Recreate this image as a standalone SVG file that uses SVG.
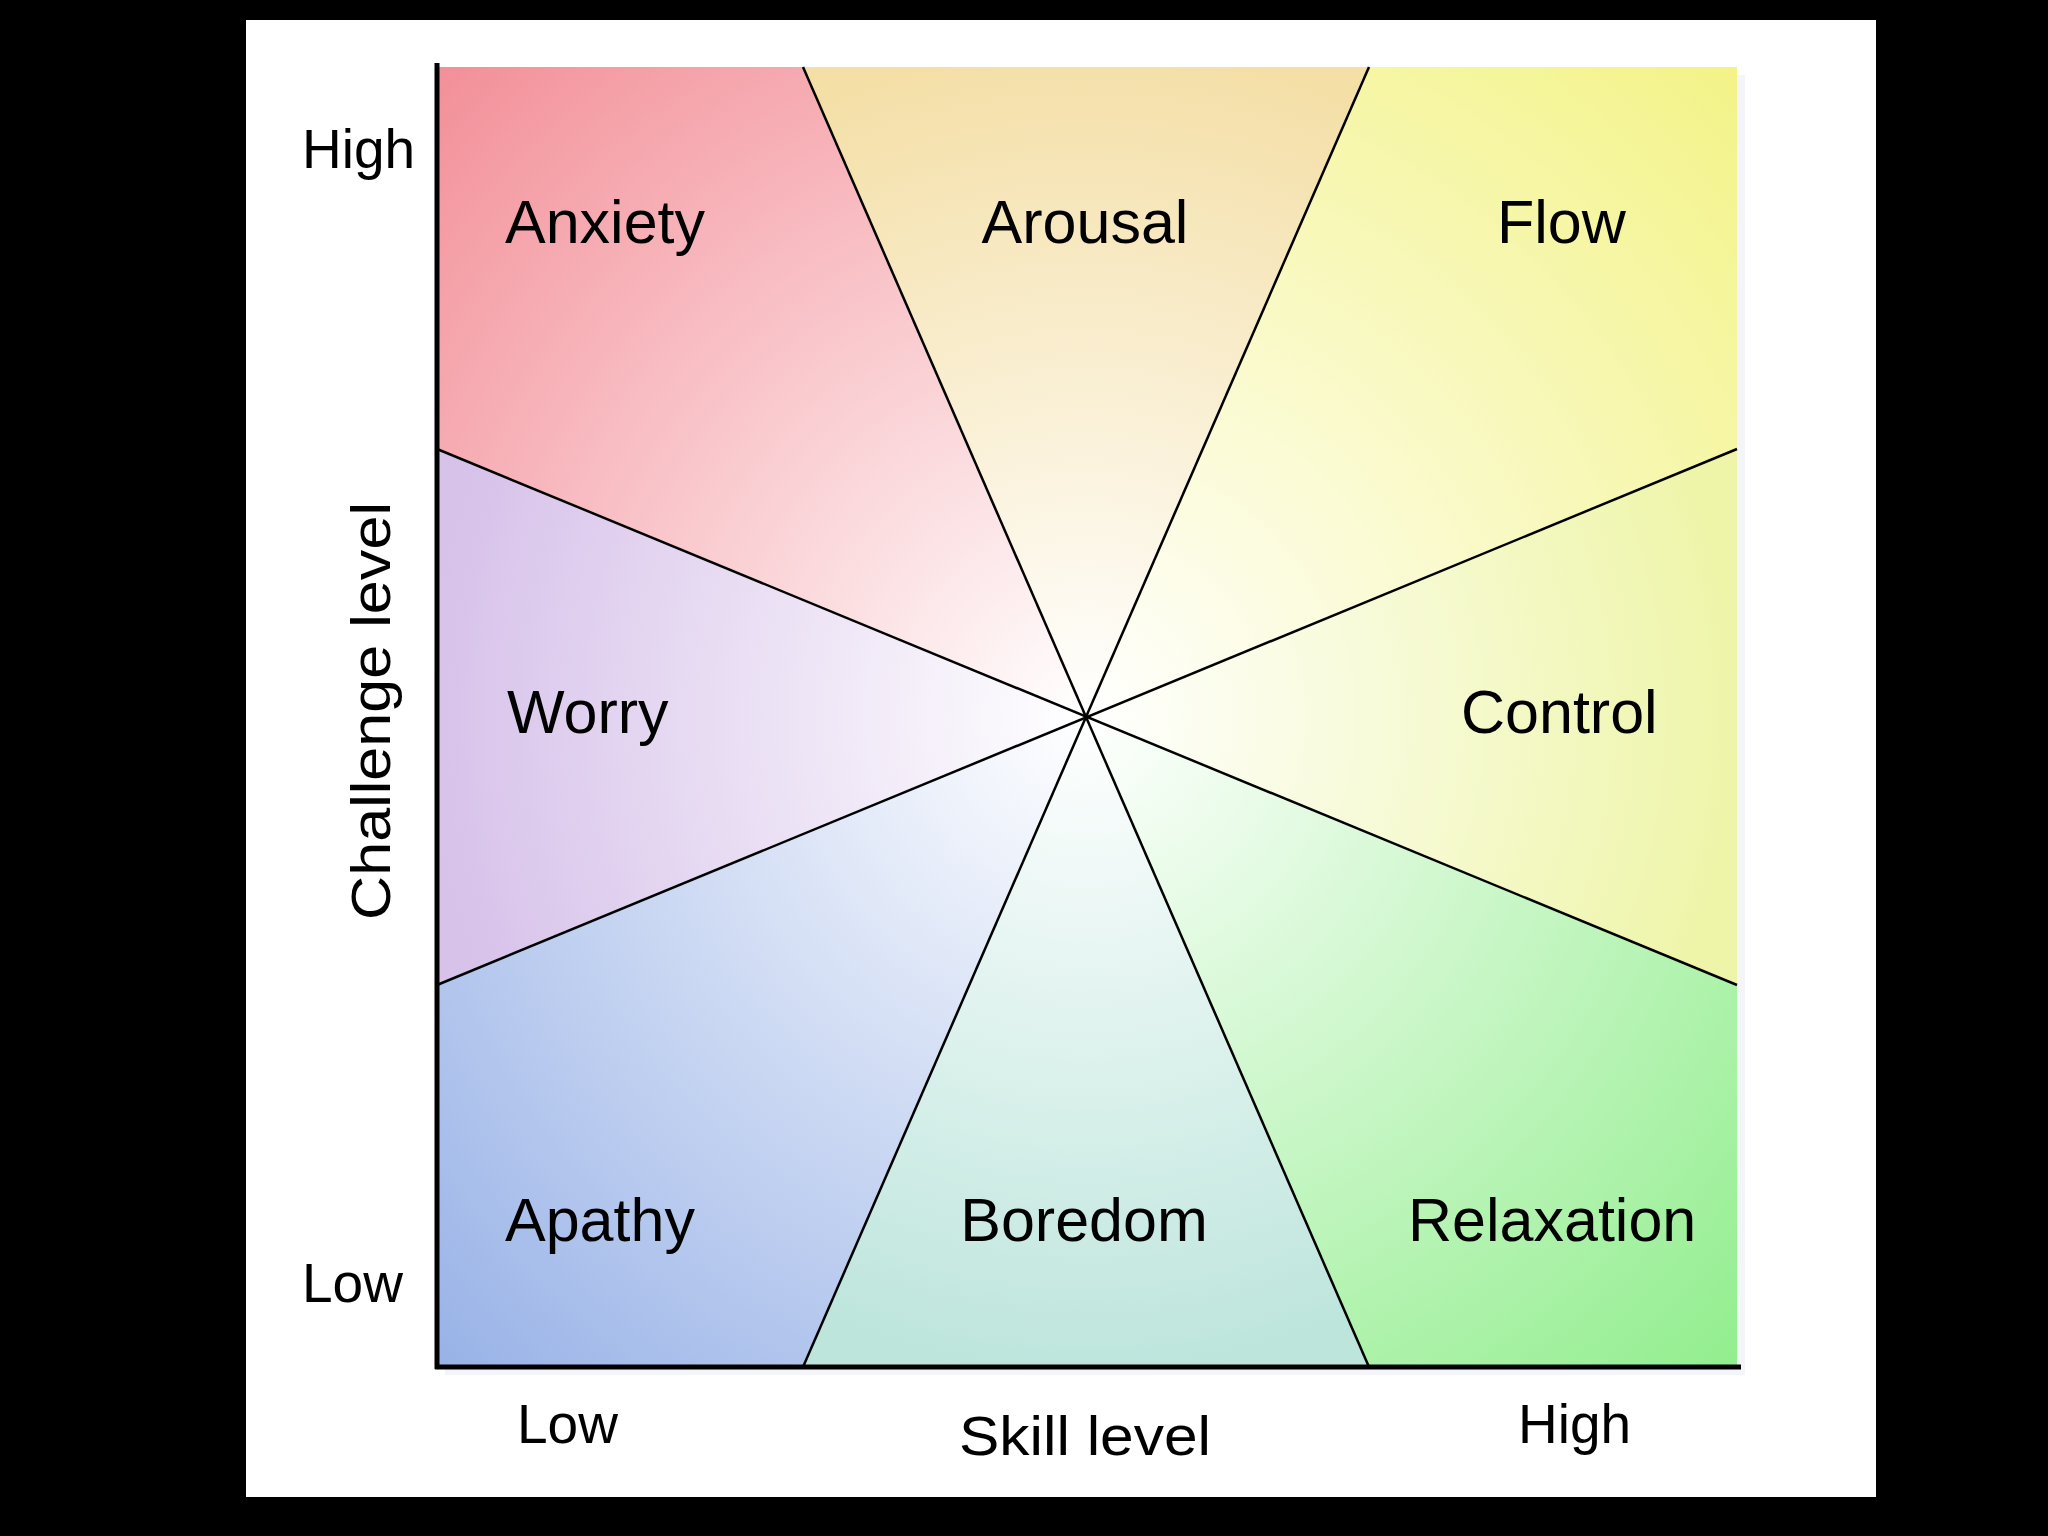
<svg xmlns="http://www.w3.org/2000/svg" width="2048" height="1536" viewBox="0 0 2048 1536">
  <style>
    .lbl { font-family: "Liberation Sans", Arial, sans-serif; font-size: 61px; fill: #000; }
    .ax { font-family: "Liberation Sans", Arial, sans-serif; font-size: 55px; fill: #000; }
    .div { stroke: #000; stroke-width: 2.5; fill: none; }
    .axis { stroke: #000; stroke-width: 5; fill: none; }
  </style>
  <defs>
    <radialGradient id="gAnx" gradientUnits="userSpaceOnUse" cx="1086" cy="717" r="919">
      <stop offset="0" stop-color="#ffffff"/><stop offset="1" stop-color="#f38f98"/>
    </radialGradient>
    <radialGradient id="gFlow" gradientUnits="userSpaceOnUse" cx="1086" cy="717" r="919">
      <stop offset="0" stop-color="#ffffff"/><stop offset="1" stop-color="#f3f388"/>
    </radialGradient>
    <radialGradient id="gApa" gradientUnits="userSpaceOnUse" cx="1086" cy="717" r="919">
      <stop offset="0" stop-color="#ffffff"/><stop offset="1" stop-color="#98b2e7"/>
    </radialGradient>
    <radialGradient id="gRel" gradientUnits="userSpaceOnUse" cx="1086" cy="717" r="919">
      <stop offset="0" stop-color="#ffffff"/><stop offset="1" stop-color="#92ee8e"/>
    </radialGradient>
    <radialGradient id="gAro" gradientUnits="userSpaceOnUse" cx="1086" cy="717" r="670">
      <stop offset="0" stop-color="#ffffff"/><stop offset="1" stop-color="#f4dfa7"/>
    </radialGradient>
    <radialGradient id="gWor" gradientUnits="userSpaceOnUse" cx="1086" cy="717" r="660">
      <stop offset="0" stop-color="#ffffff"/><stop offset="1" stop-color="#d7c2ea"/>
    </radialGradient>
    <radialGradient id="gCon" gradientUnits="userSpaceOnUse" cx="1086" cy="717" r="660">
      <stop offset="0" stop-color="#ffffff"/><stop offset="1" stop-color="#eef5a8"/>
    </radialGradient>
    <radialGradient id="gBor" gradientUnits="userSpaceOnUse" cx="1086" cy="717" r="660">
      <stop offset="0" stop-color="#ffffff"/><stop offset="1" stop-color="#bde5dc"/>
    </radialGradient>
  </defs>

  <rect x="0" y="0" width="2048" height="1536" fill="#000"/>
  <rect x="246" y="20" width="1630" height="1477" fill="#fff"/>
  <rect x="445" y="75" width="1300" height="1300" fill="#f4f5f9"/>

  <g id="anxiety">
    <polygon points="437,67 803,67 1086,717 437,449" fill="url(#gAnx)"/>
    <text class="lbl" x="505" y="243">Anxiety</text>
  </g>
  <g id="arousal">
    <polygon points="803,67 1369,67 1086,717" fill="url(#gAro)"/>
    <text class="lbl" x="1085" y="243" text-anchor="middle">Arousal</text>
  </g>
  <g id="flow">
    <polygon points="1369,67 1737,67 1737,449 1086,717" fill="url(#gFlow)"/>
    <text class="lbl" x="1497" y="243">Flow</text>
  </g>
  <g id="control">
    <polygon points="1737,449 1737,985 1086,717" fill="url(#gCon)"/>
    <text class="lbl" x="1461" y="733">Control</text>
  </g>
  <g id="relaxation">
    <polygon points="1737,985 1737,1367 1369,1367 1086,717" fill="url(#gRel)"/>
    <text class="lbl" x="1408" y="1241">Relaxation</text>
  </g>
  <g id="boredom">
    <polygon points="1369,1367 803,1367 1086,717" fill="url(#gBor)"/>
    <text class="lbl" x="1084" y="1241" text-anchor="middle">Boredom</text>
  </g>
  <g id="apathy">
    <polygon points="803,1367 437,1367 437,985 1086,717" fill="url(#gApa)"/>
    <text class="lbl" x="505" y="1241">Apathy</text>
  </g>
  <g id="worry">
    <polygon points="437,985 437,449 1086,717" fill="url(#gWor)"/>
    <text class="lbl" x="507" y="733">Worry</text>
  </g>

  <g id="connectors">
    <line class="div" x1="803" y1="67" x2="1369" y2="1367"/>
    <line class="div" x1="1369" y1="67" x2="803" y2="1367"/>
    <line class="div" x1="437" y1="449" x2="1737" y2="985"/>
    <line class="div" x1="437" y1="985" x2="1737" y2="449"/>
  </g>

  <g id="axes">
    <line class="axis" x1="437" y1="63" x2="437" y2="1369"/>
    <line class="axis" x1="435" y1="1367" x2="1741" y2="1367"/>
  </g>

  <g id="axis-labels">
    <text class="ax" x="302" y="168">High</text>
    <text class="ax" x="302" y="1302">Low</text>
    <text class="ax" x="517" y="1443">Low</text>
    <text class="ax" x="1518" y="1443">High</text>
    <text class="ax" x="959" y="1455" font-size="62" textLength="252" lengthAdjust="spacingAndGlyphs">Skill level</text>
    <text class="ax" transform="translate(390,920) rotate(-90)" font-size="62" textLength="418" lengthAdjust="spacingAndGlyphs">Challenge level</text>
  </g>
</svg>
